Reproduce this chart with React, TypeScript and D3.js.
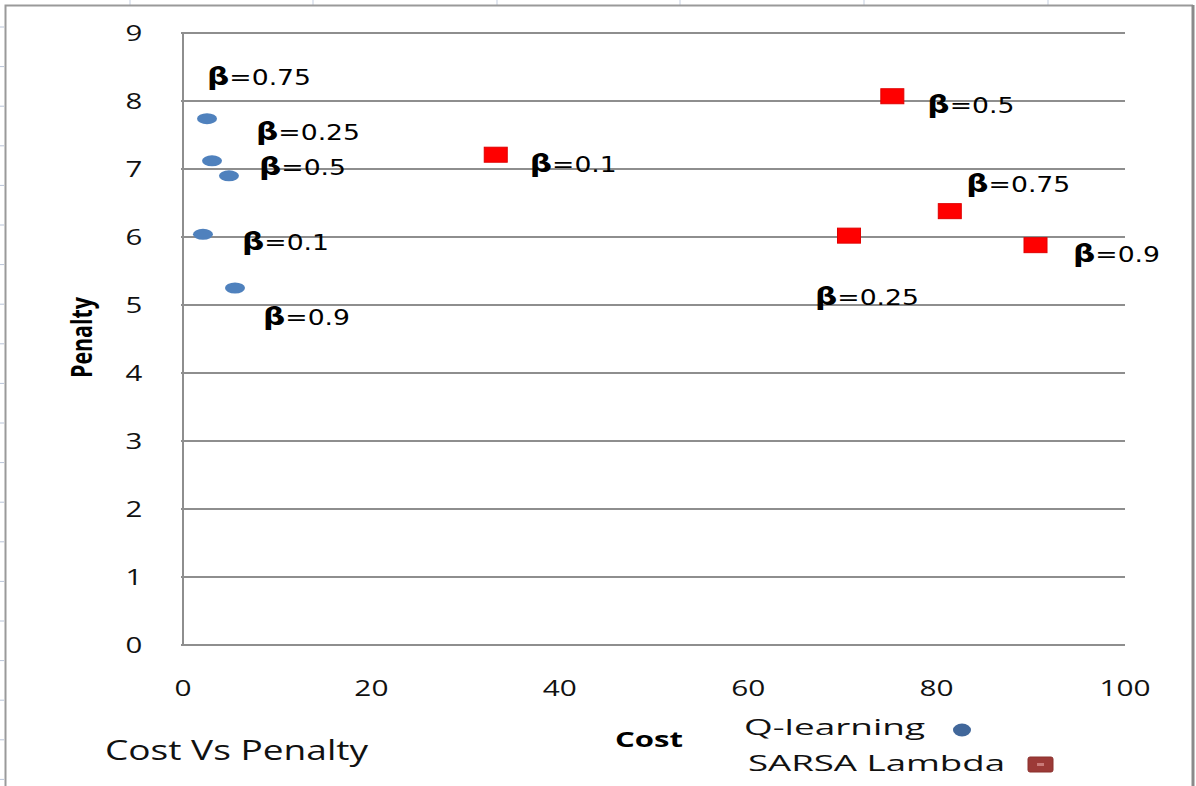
import React from "react";
import * as d3 from "d3";

// Axis ticks
const COST_TICKS = [0, 20, 40, 60, 80, 100];
const PENALTY_TICKS = [0, 1, 2, 3, 4, 5, 6, 7, 8, 9];

// Q-learning results for each beta
const Q_BETA = ["0.75", "0.25", "0.5", "0.1", "0.9"];
const Q_COST = [2.55, 3.08, 4.88, 2.12, 5.52];
const Q_PENALTY = [7.74, 7.12, 6.9, 6.04, 5.25];

// SARSA Lambda results for each beta
const SARSA_BETA = ["0.1", "0.5", "0.75", "0.25", "0.9"];
const SARSA_COST = [33.2, 75.3, 81.4, 70.7, 90.5];
const SARSA_PENALTY = [7.21, 8.07, 6.38, 6.02, 5.88];

// Label placement (pixel offsets from each marker to the label's left baseline)
const Q_LABEL_OFFSETS: [number, number][] = [[0, -34], [44, -21], [30, -1], [39, 16], [28, 37]];
const SARSA_LABEL_OFFSETS: [number, number][] = [[34, 17], [35, 16.5], [16.5, -19.5], [-34, 69.5], [37.5, 16.5]];

const W = 1196;
const H = 786;
const GRID = "#8e8e8e";
const TICK_FONT = "'Open Sans', 'Liberation Sans', sans-serif";
const LABEL_FONT = "'DejaVu Sans', Verdana, sans-serif";

export default function App() {
  const x = d3.scaleLinear().domain([0, 100]).range([183, 1125]);
  const y = d3.scaleLinear().domain([0, 9]).range([645, 33]);

  const qPoints = Q_BETA.map((b, i) => ({ beta: b, cx: x(Q_COST[i]), cy: y(Q_PENALTY[i]), off: Q_LABEL_OFFSETS[i] }));
  const sPoints = SARSA_BETA.map((b, i) => ({ beta: b, cx: x(SARSA_COST[i]), cy: y(SARSA_PENALTY[i]), off: SARSA_LABEL_OFFSETS[i] }));

  const betaLabel = (p: { beta: string; cx: number; cy: number; off: [number, number] }, key: string) => (
    <text
      key={key}
      transform={`translate(${p.cx + p.off[0]},${p.cy + p.off[1]}) scale(1.3,1)`}
      fontFamily={LABEL_FONT}
      fontSize={20.5}
      fill="#000"
    >
      <tspan fontWeight="bold" fontSize={24}>β</tspan>
      <tspan>={p.beta}</tspan>
    </text>
  );

  // spreadsheet cell guides peeking around the chart frame
  const colMarks = [130, 313, 497, 680, 864, 1048];
  const rowMarks = d3.range(27, H, 39.6);

  return (
    <div style={{ position: "fixed", left: 0, top: 0, width: W, height: H, background: "#fff" }}>
      <svg width={W} height={H} style={{ display: "block" }}>
        <rect x={0} y={0} width={W} height={H} fill="#fff" />
        {colMarks.map((cx, i) => (
          <line key={"c" + i} x1={cx} x2={cx} y1={0} y2={5} stroke="#c5cfe0" strokeWidth={1} />
        ))}
        {rowMarks.map((ry, i) => (
          <line key={"r" + i} x1={0} x2={4} y1={ry} y2={ry} stroke="#b9c4d8" strokeWidth={1} />
        ))}
        {/* chart frame */}
        <path d={`M5.5,${H} V5.5 H1193`} fill="none" stroke="#9a9a9a" strokeWidth={2} />
        <line x1={1193} x2={1193} y1={5} y2={H} stroke="#8a8a8a" strokeWidth={3} />

        {/* gridlines */}
        {PENALTY_TICKS.map((t) => (
          <line key={"g" + t} x1={x(0) - 2} x2={x(100)} y1={y(t)} y2={y(t)} stroke={GRID} strokeWidth={2} />
        ))}
        <line x1={x(0)} x2={x(0)} y1={y(9)} y2={y(0)} stroke={GRID} strokeWidth={2} />

        {/* y tick labels */}
        {PENALTY_TICKS.map((t) => (
          <text
            key={"yl" + t}
            transform={`translate(134,${y(t) + 7.5}) scale(1.4,1)`}
            textAnchor="middle"
            fontFamily={TICK_FONT}
            fontSize={21}
            fill="#111"
          >
            {t}
          </text>
        ))}
        {/* x tick labels */}
        {COST_TICKS.map((t) => (
          <text
            key={"xl" + t}
            transform={`translate(${x(t)},696) scale(1.42,1)`}
            textAnchor="middle"
            fontFamily={TICK_FONT}
            fontSize={21}
            fill="#111"
          >
            {t}
          </text>
        ))}

        {/* axis titles */}
        <text
          transform="translate(92,337.5) rotate(-90) scale(1,1.35)"
          textAnchor="middle"
          fontFamily={TICK_FONT}
          fontWeight="bold"
          fontSize={21}
          textLength={81}
          lengthAdjust="spacingAndGlyphs"
          fill="#000"
        >
          Penalty
        </text>
        <text x={615} y={747} fontFamily={TICK_FONT} fontWeight="bold" fontSize={21} textLength={68} lengthAdjust="spacingAndGlyphs" fill="#000">
          Cost
        </text>
        <text x={105} y={760} fontFamily={TICK_FONT} fontSize={28} textLength={263} lengthAdjust="spacingAndGlyphs" fill="#111">
          Cost Vs Penalty
        </text>

        {/* SARSA Lambda markers */}
        {sPoints.map((p, i) => (
          <rect key={"s" + i} x={p.cx - 11.5} y={p.cy - 7.5} width={23} height={15} fill="#ff0000" stroke="#e00000" strokeWidth={1} />
        ))}
        {/* Q-learning markers */}
        {qPoints.map((p, i) => (
          <ellipse key={"q" + i} cx={p.cx} cy={p.cy} rx={10} ry={5.5} fill="#4f81bd" />
        ))}

        {qPoints.map((p, i) => betaLabel(p, "ql" + i))}
        {sPoints.map((p, i) => betaLabel(p, "sl" + i))}

        {/* legend */}
        <text x={744} y={735} fontFamily={TICK_FONT} fontSize={21} textLength={181} lengthAdjust="spacingAndGlyphs" fill="#111">
          Q-learning
        </text>
        <ellipse cx={962} cy={730} rx={9} ry={6.5} fill="#41679a" />
        <text x={748} y={771} fontFamily={TICK_FONT} fontSize={21} textLength={257} lengthAdjust="spacingAndGlyphs" fill="#111">
          SARSA Lambda
        </text>
        <rect x={1028} y={757} width={25} height={15} rx={2} fill="#9c3a37" stroke="#8a302d" strokeWidth={1} />
        <rect x={1037} y={763} width={7} height={3} fill="#c97a78" />
      </svg>
    </div>
  );
}
